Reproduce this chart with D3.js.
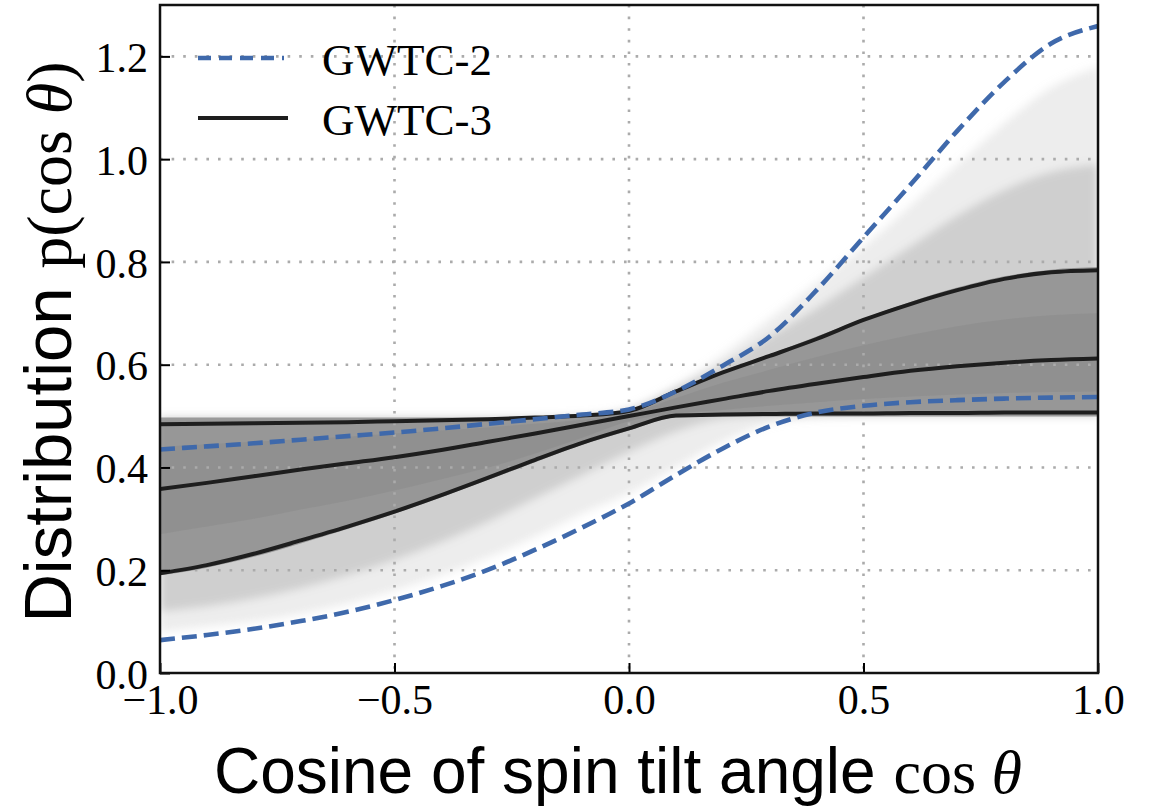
<!DOCTYPE html>
<html>
<head>
<meta charset="utf-8">
<script src="https://cdn.jsdelivr.net/npm/d3@7"></script>
<style>
  body { margin: 0; background: #fff; }
</style>
</head>
<body>
<div id="spinTiltViz"></div>
<script>
// cos(theta) grid the curves are read on
var cosTheta = [-1.0, -0.9, -0.8, -0.7, -0.6, -0.5, -0.4, -0.3, -0.2, -0.1, 0.0,
                0.1, 0.2, 0.3, 0.4, 0.5, 0.6, 0.7, 0.8, 0.9, 1.0];

// GWTC-2 90% bounds (dashed)
var gwtc2Lower = [0.064, 0.074, 0.086, 0.101, 0.119, 0.142, 0.169, 0.201, 0.240, 0.283, 0.330,
                  0.385, 0.437, 0.480, 0.507, 0.520, 0.527, 0.531, 0.534, 0.536, 0.537];
var gwtc2Upper = [0.435, 0.441, 0.447, 0.454, 0.461, 0.468, 0.476, 0.485, 0.494, 0.503, 0.513,
                  0.548, 0.598, 0.655, 0.745, 0.848, 0.950, 1.055, 1.150, 1.225, 1.259];

// GWTC-3 bounds and median (solid)
var gwtc3Lower = [0.194, 0.210, 0.232, 0.258, 0.285, 0.314, 0.346, 0.380, 0.415, 0.448, 0.476,
                  0.501, 0.503, 0.504, 0.505, 0.505, 0.506, 0.506, 0.507, 0.507, 0.507];
var gwtc3Median = [0.358, 0.370, 0.383, 0.396, 0.408, 0.420, 0.434, 0.450, 0.466, 0.483, 0.500,
                   0.517, 0.533, 0.549, 0.563, 0.576, 0.588, 0.597, 0.604, 0.609, 0.612];
var gwtc3Upper = [0.484, 0.485, 0.486, 0.487, 0.488, 0.490, 0.492, 0.494, 0.497, 0.501, 0.510,
                  0.548, 0.585, 0.617, 0.650, 0.687, 0.718, 0.745, 0.767, 0.780, 0.784];

// spread of the GWTC-3 posterior draws (grey lines), envelopes
var drawsMin = [0.080, 0.090, 0.100, 0.115, 0.135, 0.160, 0.190, 0.225, 0.265, 0.310, 0.350,
                0.400, 0.450, 0.485, 0.497, 0.499, 0.499, 0.499, 0.499, 0.499, 0.499];
var drawsMax = [0.498, 0.498, 0.498, 0.498, 0.498, 0.498, 0.498, 0.498, 0.498, 0.500, 0.515,
                0.560, 0.620, 0.690, 0.760, 0.830, 0.910, 0.990, 1.070, 1.140, 1.180];
var drawsLow = [0.120, 0.130, 0.145, 0.165, 0.190, 0.220, 0.255, 0.295, 0.340, 0.385, 0.430,
                0.470, 0.495, 0.500, 0.500, 0.500, 0.500, 0.500, 0.500, 0.500, 0.500];
var drawsHigh = [0.497, 0.497, 0.497, 0.497, 0.497, 0.497, 0.497, 0.497, 0.497, 0.500, 0.513,
                 0.555, 0.600, 0.655, 0.710, 0.770, 0.830, 0.890, 0.940, 0.975, 0.990];
var denseLo = [0.190, 0.205, 0.226, 0.252, 0.280, 0.310, 0.342, 0.376, 0.410, 0.444, 0.472,
               0.497, 0.499, 0.499, 0.499, 0.499, 0.499, 0.499, 0.499, 0.499, 0.499];
var denseHi = [0.497, 0.497, 0.497, 0.497, 0.497, 0.497, 0.497, 0.497, 0.497, 0.500, 0.512,
               0.550, 0.588, 0.620, 0.655, 0.690, 0.722, 0.750, 0.772, 0.785, 0.790];
var quart25 = [0.270, 0.285, 0.300, 0.318, 0.335, 0.355, 0.377, 0.400, 0.427, 0.458, 0.490,
               0.505, 0.512, 0.520, 0.527, 0.533, 0.538, 0.542, 0.545, 0.547, 0.548];
var quart75 = [0.440, 0.445, 0.450, 0.455, 0.460, 0.466, 0.472, 0.478, 0.485, 0.493, 0.505,
               0.535, 0.565, 0.590, 0.615, 0.638, 0.658, 0.675, 0.688, 0.696, 0.700];

var xTicks = [-1.0, -0.5, 0.0, 0.5, 1.0];
var yTicks = [0.0, 0.2, 0.4, 0.6, 0.8, 1.0, 1.2];
var legendLabels = ["GWTC-2", "GWTC-3"];

var margin = {top: 5, right: 52, bottom: 135, left: 160},
    width = 1150 - margin.left - margin.right,
    height = 808 - margin.top - margin.bottom;

var serif = "'Liberation Serif', 'Times New Roman', serif";
var sans = "'Liberation Sans', Arial, Helvetica, sans-serif";

var root = d3.select("#spinTiltViz")
  .append("svg")
    .attr("width", 1150)
    .attr("height", 808);

var defs = root.append("defs");
defs.append("filter").attr("id", "soft")
    .attr("x", "-5%").attr("y", "-5%").attr("width", "110%").attr("height", "110%")
  .append("feGaussianBlur").attr("stdDeviation", 4);

var svg = root.append("g")
    .attr("transform", `translate(${margin.left},${margin.top})`);

var x = d3.scaleLinear().domain([-1, 1]).range([0, width]);
var y = d3.scaleLinear().domain([0, 1.3]).range([height, 0]);

svg.append("clipPath").attr("id", "plotClip")
  .append("rect").attr("width", width).attr("height", height);

var plot = svg.append("g").attr("clip-path", "url(#plotClip)");

function band(lo, hi) {
  return d3.area()
    .x((d, i) => x(cosTheta[i]))
    .y0((d, i) => y(lo[i]))
    .y1((d, i) => y(hi[i]))
    .curve(d3.curveMonotoneX)(cosTheta);
}
function curve(vals) {
  return d3.line()
    .x((d, i) => x(cosTheta[i]))
    .y((d, i) => y(vals[i]))
    .curve(d3.curveMonotoneX)(cosTheta);
}

// posterior draws, shown as stacked translucent bands
var outer = plot.append("g").attr("filter", "url(#soft)");
outer.append("path").attr("d", band(drawsMin, drawsMax))
    .attr("fill", "#c4c4c4").attr("fill-opacity", 0.3);
outer.append("path").attr("d", band(drawsLow, drawsHigh))
    .attr("fill", "#9e9e9e").attr("fill-opacity", 0.38);
plot.append("path").attr("d", band(denseLo, denseHi))
    .attr("fill", "#888888").attr("fill-opacity", 0.8);
plot.append("path").attr("d", band(quart25, quart75))
    .attr("fill", "#808080").attr("fill-opacity", 0.3);

// dotted grid
plot.append("g").selectAll("line")
  .data(yTicks.filter(v => v > 0))
  .join("line")
    .attr("x1", 0).attr("x2", width)
    .attr("y1", d => y(d)).attr("y2", d => y(d))
    .attr("stroke", "#ababab").attr("stroke-width", 2.6)
    .attr("stroke-dasharray", "2.6,9");
plot.append("g").selectAll("line")
  .data(xTicks.filter(v => v > -1 && v < 1))
  .join("line")
    .attr("y1", 0).attr("y2", height)
    .attr("x1", d => x(d)).attr("x2", d => x(d))
    .attr("stroke", "#ababab").attr("stroke-width", 2.6)
    .attr("stroke-dasharray", "2.6,9");

// GWTC-3 solid lines
[gwtc3Lower, gwtc3Median, gwtc3Upper].forEach(function(vals) {
  plot.append("path").attr("d", curve(vals))
    .attr("fill", "none").attr("stroke", "#1e1e1e").attr("stroke-width", 4);
});

// GWTC-2 dashed lines
[gwtc2Lower, gwtc2Upper].forEach(function(vals) {
  plot.append("path").attr("d", curve(vals))
    .attr("fill", "none").attr("stroke", "#3f69ab").attr("stroke-width", 4.6)
    .attr("stroke-dasharray", "15,7");
});

// axes with inward ticks
var yAxis = svg.append("g")
  .call(d3.axisLeft(y).tickValues(yTicks).tickSize(-10).tickPadding(12).tickFormat(d3.format(".1f")));
yAxis.select(".domain").remove();
yAxis.selectAll("line").attr("stroke", "#000").attr("stroke-width", 2);
yAxis.selectAll("text")
    .attr("dy", "0.36em")
    .style("font-family", serif)
    .style("font-size", "42px")
    .attr("fill", "#000");

var xAxis = svg.append("g")
  .attr("transform", `translate(0,${height})`)
  .call(d3.axisBottom(x).tickValues(xTicks).tickSize(-10).tickPadding(11).tickFormat(d3.format(".1f")));
xAxis.select(".domain").remove();
xAxis.selectAll("line").attr("stroke", "#000").attr("stroke-width", 2);
xAxis.selectAll("text")
    .style("font-family", serif)
    .style("font-size", "42px")
    .attr("fill", "#000");

// frame
svg.append("rect")
    .attr("width", width).attr("height", height)
    .attr("fill", "none").attr("stroke", "#111").attr("stroke-width", 2.5);

// legend
var legend = svg.append("g").attr("transform", "translate(38,0)");
legend.append("line")
    .attr("x1", 0).attr("x2", 86).attr("y1", 53).attr("y2", 53)
    .attr("stroke", "#3f69ab").attr("stroke-width", 4.4).attr("stroke-dasharray", "13,8");
legend.append("line")
    .attr("x1", 0).attr("x2", 90).attr("y1", 113).attr("y2", 113)
    .attr("stroke", "#1e1e1e").attr("stroke-width", 4);
legend.selectAll("text")
  .data(legendLabels)
  .join("text")
    .attr("x", 124)
    .attr("y", (d, i) => 70 + i * 60)
    .style("font-family", serif)
    .style("font-size", "45px")
    .text(d => d);

// axis titles
var yTitle = root.append("text")
    .attr("transform", "translate(71,342) rotate(-90)")
    .attr("text-anchor", "middle");
yTitle.append("tspan").style("font-family", sans).style("font-size", "67px").text("Distribution ");
yTitle.append("tspan").style("font-family", serif).style("font-size", "64px").text("p(cos ");
yTitle.append("tspan").style("font-family", serif).style("font-size", "64px").style("font-style", "italic").text("θ");
yTitle.append("tspan").style("font-family", serif).style("font-size", "64px").text(")");

var xTitle = root.append("text")
    .attr("x", 618).attr("y", 793)
    .attr("text-anchor", "middle");
xTitle.append("tspan").style("font-family", sans).style("font-size", "64px").text("Cosine of spin tilt angle ");
xTitle.append("tspan").style("font-family", serif).style("font-size", "62px").text("cos ");
xTitle.append("tspan").style("font-family", serif).style("font-size", "62px").style("font-style", "italic").text("θ");
</script>
</body>
</html>
